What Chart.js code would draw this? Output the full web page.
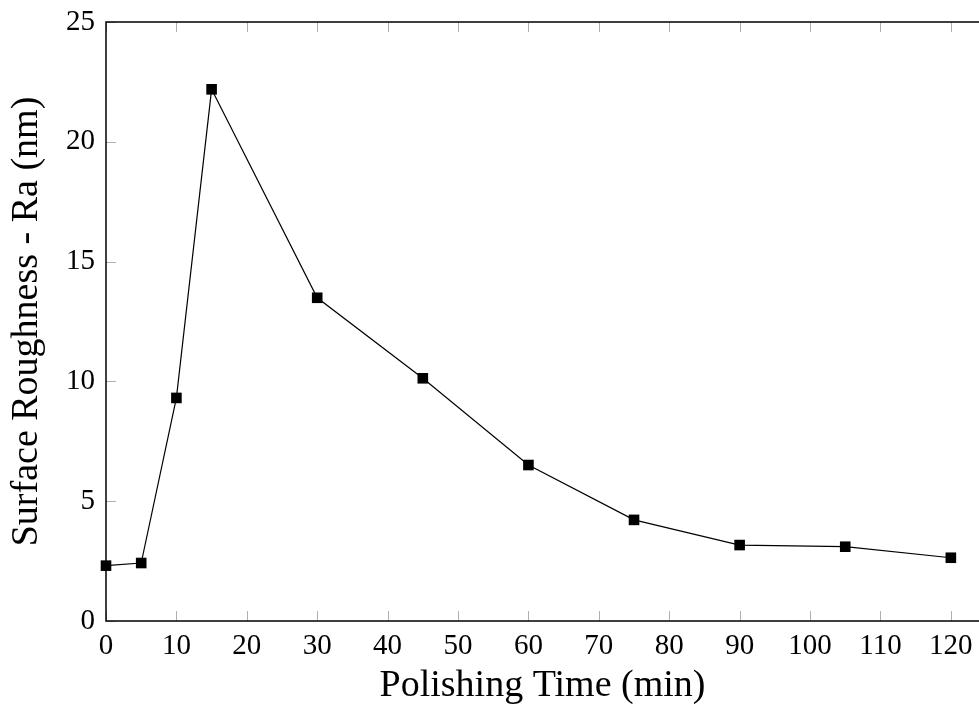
<!DOCTYPE html>
<html>
<head>
<meta charset="utf-8">
<script src="https://cdn.jsdelivr.net/npm/chart.js@4/dist/chart.umd.min.js"></script>
<style>
  html, body { margin: 0; padding: 0; background: #fff; overflow: hidden; }
  canvas { display: block; }
</style>
</head>
<body>
<canvas id="myChart" width="979" height="709"></canvas>
<script>
// polishing time (min) and Ra (nm)
const times = [0, 5, 10, 15, 30, 45, 60, 75, 90, 105, 120]
const roughness = [2.31, 2.42, 9.31, 22.19, 13.49, 10.13, 6.51, 4.22, 3.17, 3.10, 2.64]
const xTicks = [0, 10, 20, 30, 40, 50, 60, 70, 80, 90, 100, 110, 120]
const yTicks = [0, 5, 10, 15, 20, 25]

const serif = "'Liberation Serif', 'DejaVu Serif', serif"

// pgfplots style frame (right side is cut off in the picture) + short inward grey ticks
const frame = {
  id: 'frame',
  afterDraw(chart) {
    const c = chart.ctx, a = chart.chartArea
    const x = chart.scales.x, y = chart.scales.y
    c.save()
    c.strokeStyle = '#b0b0b0'
    c.lineWidth = 1
    c.beginPath()
    x.ticks.forEach(t => {
      const px = Math.round(x.getPixelForValue(t.value)) + 0.5
      c.moveTo(px, a.bottom); c.lineTo(px, a.bottom - 10)
      c.moveTo(px, a.top); c.lineTo(px, a.top + 10)
    })
    y.ticks.forEach(t => {
      const py = Math.round(y.getPixelForValue(t.value)) + 0.5
      c.moveTo(a.left, py); c.lineTo(a.left + 10, py)
    })
    c.stroke()
    c.strokeStyle = '#000'
    c.lineWidth = 1.5
    c.beginPath()
    c.moveTo(a.right + 2, a.top)
    c.lineTo(a.left, a.top)
    c.lineTo(a.left, a.bottom)
    c.lineTo(a.right + 2, a.bottom)
    c.stroke()
    c.restore()
  }
}

const ctx = document.getElementById('myChart').getContext('2d')
new Chart(ctx, {
  type: 'line',
  data: {
    datasets: [{
      label: 'Ra',
      data: times.map((t, i) => ({ x: t, y: roughness[i] })),
      borderColor: '#000',
      borderWidth: 1.2,
      backgroundColor: '#000',
      pointStyle: 'rect',
      pointRadius: 7.5,
      pointBorderWidth: 0,
      pointBackgroundColor: '#000',
      tension: 0,
      clip: false
    }]
  },
  plugins: [frame],
  options: {
    responsive: false,
    animation: false,
    layout: { autoPadding: false, padding: { top: 22, right: 0, left: 0, bottom: 0 } },
    plugins: { legend: { display: false }, tooltip: { enabled: false } },
    scales: {
      x: {
        type: 'linear',
        min: 0,
        max: 124,
        afterBuildTicks: s => { s.ticks = xTicks.map(v => ({ value: v })) },
        afterFit: s => { s.height = 88; s.paddingLeft = 0; s.paddingRight = 0 },
        grid: { display: false, drawTicks: false },
        border: { display: false },
        ticks: { color: '#000', padding: 8, maxRotation: 0, font: { family: serif, size: 29 } },
        title: {
          display: true,
          text: 'Polishing Time (min)',
          color: '#000',
          font: { family: serif, size: 38 },
          padding: { top: 0, bottom: 0 }
        }
      },
      y: {
        min: 0,
        max: 25,
        afterBuildTicks: s => { s.ticks = yTicks.map(v => ({ value: v })) },
        afterFit: s => { s.width = 106; s.paddingTop = 0; s.paddingBottom = 0 },
        grid: { display: false, drawTicks: false },
        border: { display: false },
        ticks: { color: '#000', padding: 11, font: { family: serif, size: 29 } },
        title: {
          display: true,
          text: 'Surface Roughness - Ra (nm)',
          color: '#000',
          font: { family: serif, size: 38 },
          padding: { top: 4, bottom: 0 }
        }
      }
    }
  }
})
</script>
</body>
</html>
